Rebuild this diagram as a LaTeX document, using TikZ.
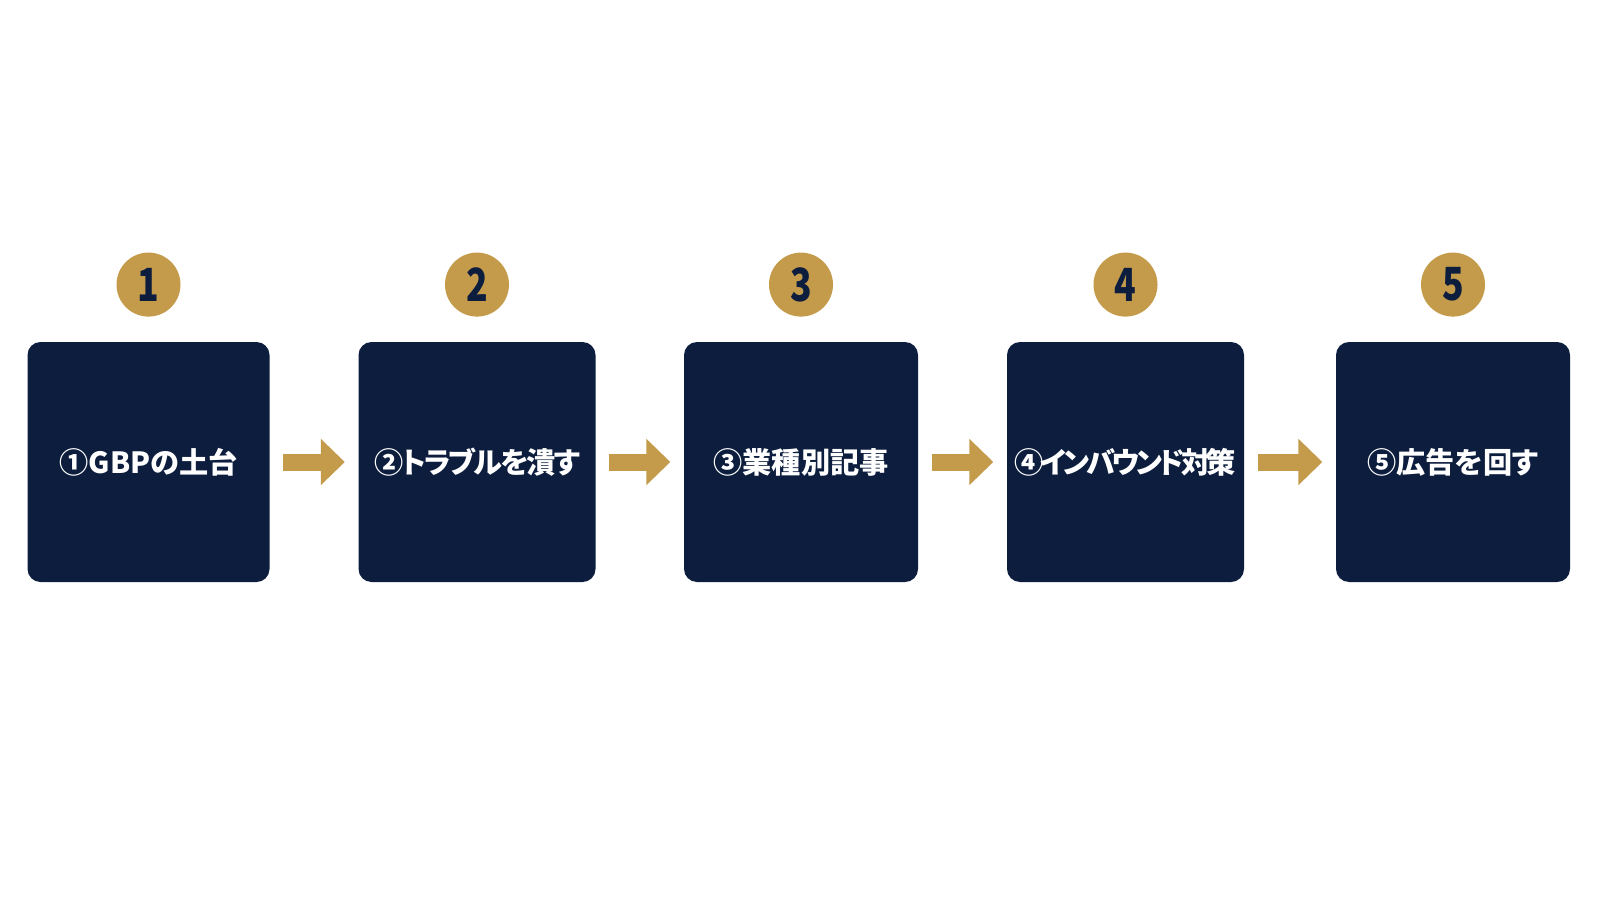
\documentclass[tikz,border=0pt]{standalone}
\usepackage{fontspec}
\setmainfont{Noto Sans CJK JP}[RawFeature=+palt]
\usepackage{tikz}
\usetikzlibrary{positioning,arrows.meta}
\definecolor{navy}{HTML}{0C1D3D}
\definecolor{gold}{HTML}{C49B4B}
\begin{document}
\begin{tikzpicture}[
  stepbox/.style={fill=navy, rounded corners=0.13cm, minimum width=2.37cm, minimum height=2.4cm,
    inner sep=0pt, text=white, font=\fontsize{8.3pt}{9pt}\selectfont\bfseries},
  numdot/.style={circle, fill=gold, minimum size=0.64cm, inner sep=0pt, text=navy,
    font=\fontsize{13pt}{14pt}\selectfont\bfseries},
  flow/.style={gold, line width=0.17cm, -{Triangle[length=0.24cm,width=0.45cm]}}]
\useasboundingbox (0,0) rectangle (16,9);
\fill[white] (0,0) rectangle (16,9);
\node[stepbox, minimum width=2.42cm] (b1) at (1.485,4.38) {①GBPの土台};
\node[stepbox] (b2) at (4.77,4.38) {\addfontfeature{LetterSpace=-6.4}②トラブルを潰す};
\node[stepbox, minimum width=2.34cm] (b3) at (8.01,4.38) {③業種別記事};
\node[stepbox] (b4) at (11.255,4.38) {\addfontfeature{LetterSpace=-12}④インバウンド対策};
\node[stepbox, minimum width=2.34cm] (b5) at (14.53,4.38) {⑤広告を回す};
\node[numdot, above=0.24cm of b1] (n1) {\scalebox{0.78}[1]{1}};
\node[numdot, above=0.24cm of b2] (n2) {\scalebox{0.78}[1]{2}};
\node[numdot, above=0.24cm of b3] (n3) {\scalebox{0.78}[1]{3}};
\node[numdot, above=0.24cm of b4] (n4) {\scalebox{0.78}[1]{4}};
\node[numdot, above=0.24cm of b5] (n5) {\scalebox{0.78}[1]{5}};
\draw[flow] ([xshift=0.13cm]b1.east) -- ([xshift=-0.13cm]b2.west);
\draw[flow] ([xshift=0.13cm]b2.east) -- ([xshift=-0.13cm]b3.west);
\draw[flow] ([xshift=0.13cm]b3.east) -- ([xshift=-0.13cm]b4.west);
\draw[flow] ([xshift=0.13cm]b4.east) -- ([xshift=-0.13cm]b5.west);
\end{tikzpicture}
\end{document}
